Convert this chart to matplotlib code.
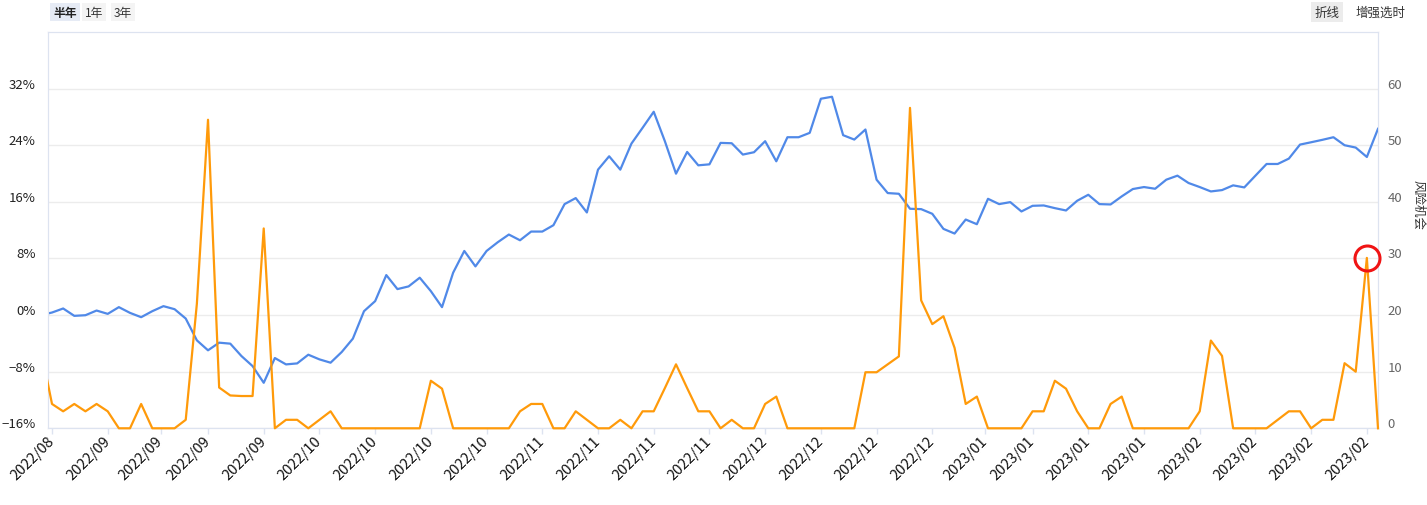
import matplotlib
matplotlib.use("Agg")
import matplotlib.pyplot as plt
from matplotlib.transforms import ScaledTranslation, Bbox, TransformedBbox

plt.rcParams['font.family'] = ['Noto Sans CJK SC', 'DejaVu Sans']

# x index of every point (index -1 sits just left of the visible range)
idx = list(range(-1, 120))

# blue line, left axis (%)
excess = [0.0, 0.36, 0.93, -0.11, -0.02, 0.64, 0.17, 1.12, 0.31, -0.30,
          0.55, 1.26, 0.83, -0.49, -3.57, -4.98, -3.90, -4.04, -5.79, -7.21,
          -9.57, -6.07, -6.97, -6.83, -5.60, -6.26, -6.73, -5.22, -3.33, 0.55,
          1.97, 5.65, 3.67, 4.05, 5.28, 3.38, 1.12, 5.99, 9.06, 6.88,
          9.06, 10.29, 11.38, 10.57, 11.80, 11.80, 12.70, 15.68, 16.53, 14.50,
          20.55, 22.44, 20.55, 24.23, 26.46, 28.73, 24.57, 19.98, 23.05, 21.16,
          21.30, 24.33, 24.28, 22.68, 23.01, 24.57, 21.73, 25.13, 25.13, 25.75,
          30.57, 30.85, 25.42, 24.80, 26.22, 19.13, 17.24, 17.14, 15.02, 14.97,
          14.31, 12.18, 11.52, 13.50, 12.84, 16.43, 15.68, 15.96, 14.64, 15.44,
          15.49, 15.11, 14.78, 16.15, 17.00, 15.68, 15.63, 16.77, 17.81, 18.09,
          17.85, 19.13, 19.70, 18.66, 18.09, 17.47, 17.66, 18.33, 18.04, 19.70,
          21.35, 21.35, 22.11, 24.09, 24.42, 24.76, 25.13, 24.00, 23.67, 22.34,
          26.32]

# orange line, right axis (风险机会)
risk = [14.0, 4.3, 3.0, 4.3, 3.0, 4.3, 3.0, 0, 0, 4.3,
        0, 0, 0, 1.5, 22.0, 54.5, 7.2, 5.8, 5.7, 5.7,
        35.3, 0, 1.5, 1.5, 0, 1.5, 3.0, 0, 0, 0,
        0, 0, 0, 0, 0, 8.4, 7.0, 0, 0, 0,
        0, 0, 0, 3.0, 4.3, 4.3, 0, 0, 3.0, 1.5,
        0, 0, 1.5, 0, 3.0, 3.0, 7.1, 11.3, 7.1, 3.0,
        3.0, 0, 1.5, 0, 0, 4.3, 5.6, 0, 0, 0,
        0, 0, 0, 0, 9.9, 9.9, 11.3, 12.7, 56.6, 22.6,
        18.4, 19.8, 14.2, 4.3, 5.6, 0, 0, 0, 0, 3.0,
        3.0, 8.4, 7.0, 3.0, 0, 0, 4.3, 5.6, 0, 0,
        0, 0, 0, 0, 3.0, 15.5, 12.8, 0, 0, 0,
        0, 1.5, 3.0, 3.0, 0, 1.5, 1.5, 11.5, 10.0, 30.1,
        0]

tick_pos = [0, 5, 9.75, 14, 19, 24, 29, 34, 39, 44, 49, 54, 59, 64, 69, 74,
            79, 83.75, 88, 93, 98, 103, 108, 113, 118]
tick_labels = ['2022/08', '2022/09', '2022/09', '2022/09', '2022/09',
               '2022/10', '2022/10', '2022/10', '2022/10',
               '2022/11', '2022/11', '2022/11', '2022/11',
               '2022/12', '2022/12', '2022/12', '2022/12',
               '2023/01', '2023/01', '2023/01', '2023/01',
               '2023/02', '2023/02', '2023/02', '2023/02']
left_ticks = [-16, -8, 0, 8, 16, 24, 32]
right_ticks = [0, 10, 20, 30, 40, 50, 60]
mark_at = 118

W, H = 1427, 506
fig = plt.figure(figsize=(W / 100, H / 100), dpi=100)
ax = fig.add_axes([48 / W, 1 - 429.3 / H, (1378 - 48) / W, (429.3 - 33) / H])
axis_col = '#dde3f0'

ax.plot(idx, excess, color='#5089e8', lw=1.6, zorder=3)
ax.set_xlim(-0.36, 119)
ax.set_ylim(-16, 40)
ax.set_yticks(left_ticks)
ax.set_yticklabels([(str(v) + '%').replace('-', '\u2212') for v in left_ticks])
ax.grid(axis='y', color='#ececec', lw=1)
ax.set_axisbelow(True)
ax.tick_params(axis='y', length=0, pad=9, labelsize=9.5, labelcolor='#222222')
ax.set_xticks(tick_pos)
ax.set_xticklabels(tick_labels, rotation=45, rotation_mode='anchor',
                   ha='right', va='center')
ax.tick_params(axis='x', length=4, width=1, color=axis_col, pad=3.5,
               labelsize=10.5, labelcolor='#111111')
for s in ax.spines.values():
    s.set_color(axis_col)

ax2 = ax.twinx()
line, = ax2.plot(idx, risk, color='#ff9a0a', lw=1.6, zorder=4)
line.set_clip_box(TransformedBbox(Bbox([[-0.36, -3], [119.4, 72]]), ax2.transData))
ax2.plot(mark_at, risk[idx.index(mark_at)], 'o', ms=18, mfc='none', mec='#f01414',
         mew=2.2, zorder=5, clip_on=False)
ax2.set_ylim(0, 70)
ax2.set_yticks(right_ticks)
ax2.tick_params(axis='y', length=0, pad=7, labelsize=9.5, labelcolor='#666666')
for s in ax2.spines.values():
    s.set_color(axis_col)

# labels sit a little above their grid lines
up = ScaledTranslation(0, 6 / 100, fig.dpi_scale_trans)
for lbl in ax.get_yticklabels() + ax2.get_yticklabels():
    lbl.set_transform(lbl.get_transform() + up)

fig.text(1418 / W, 1 - 205 / H, '风险机会', rotation=-90, ha='center', va='center',
         fontsize=9, color='#333333')

# buttons at the top
fig.text(65 / W, 1 - 13 / H, '半年', ha='center', va='center', fontsize=8.5,
         fontweight='bold', color='#222222',
         bbox=dict(boxstyle='square,pad=0.25', fc='#e6ebf5', ec='none'))
fig.text(94 / W, 1 - 13 / H, '1年', ha='center', va='center', fontsize=8.5,
         color='#333333', bbox=dict(boxstyle='square,pad=0.25', fc='#f4f4f4', ec='none'))
fig.text(123 / W, 1 - 13 / H, '3年', ha='center', va='center', fontsize=8.5,
         color='#333333', bbox=dict(boxstyle='square,pad=0.25', fc='#f4f4f4', ec='none'))
fig.text(1327 / W, 1 - 13 / H, '折线', ha='center', va='center', fontsize=9,
         color='#333333', bbox=dict(boxstyle='square,pad=0.25', fc='#ececec', ec='none'))
fig.text(1381 / W, 1 - 13 / H, '增强选时', ha='center', va='center', fontsize=9,
         color='#333333')

fig.savefig('out.png', dpi=100)
